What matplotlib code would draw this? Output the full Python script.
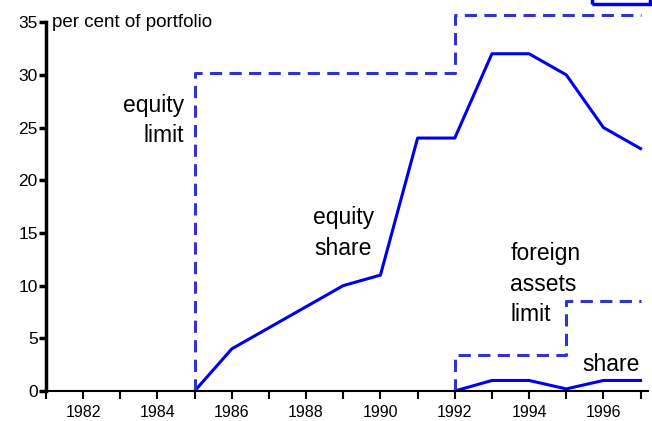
import matplotlib
matplotlib.use("Agg")
import matplotlib.pyplot as plt
from matplotlib.patches import Rectangle

plt.rcParams['font.family'] = ['Liberation Sans', 'DejaVu Sans']

# equity share of portfolio
years = [1985, 1986, 1987, 1988, 1989, 1990, 1991, 1992, 1993, 1994, 1995, 1996, 1997]
equity_share = [0, 4, 6, 8, 10, 11, 24, 24, 32, 32, 30, 25, 23]

# equity limit (step)
eq_limit_x = [1985, 1985, 1992, 1992, 1997]
eq_limit_y = [0, 30.2, 30.2, 35.7, 35.7]

# foreign assets
foreign_years = [1992, 1993, 1994, 1995, 1996, 1997]
foreign_share = [0, 1, 1, 0.2, 1, 1]
fa_limit_x = [1992, 1992, 1995, 1995, 1997]
fa_limit_y = [0, 3.4, 3.4, 8.5, 8.5]

yticks = [0, 5, 10, 15, 20, 25, 30, 35]
xlabels = [1982, 1984, 1986, 1988, 1990, 1992, 1994, 1996]

fig = plt.figure(figsize=(6.52, 4.21), dpi=100)
ax = fig.add_axes([46/652, 30/421, 602/652, 391/421])

line_blue = '#0000ee'
dash_blue = '#3333cc'

ax.plot(years, equity_share, color=line_blue, lw=2.2)
ax.plot(foreign_years, foreign_share, color=line_blue, lw=2.2)
ax.plot(eq_limit_x, eq_limit_y, color=dash_blue, lw=2.2, dashes=(4, 2.4))
ax.plot(fa_limit_x, fa_limit_y, color=dash_blue, lw=2.2, dashes=(4, 2.4))

ax.set_xlim(1981, 1997.2)
ax.set_ylim(0, 37.1)

for s in ['top', 'right']:
    ax.spines[s].set_visible(False)
ax.spines['left'].set_bounds(0, 35)
ax.spines['left'].set_linewidth(2.5)
ax.spines['bottom'].set_linewidth(1.5)

ax.set_yticks(yticks)
ax.set_xticks(range(1981, 1998))
ax.set_xticklabels([str(y) if y in xlabels else '' for y in range(1981, 1998)])
ax.tick_params(axis='y', length=5, width=2.5, labelsize=12.5, pad=1)
ax.tick_params(axis='x', length=6, width=1.5, labelsize=11.5, pad=4)

ax.text(1981.15, 35, 'per cent of portfolio', fontsize=13.5, va='center', ha='left')
ax.text(1984.71, 25.7, 'equity\nlimit', fontsize=16.5, ha='right', va='center', linespacing=1.4)
ax.text(1989.0, 15.0, 'equity\nshare', fontsize=16.5, ha='center', va='center', linespacing=1.4)
ax.text(1993.49, 10.15, 'foreign\nassets\nlimit', fontsize=16.5, ha='left', va='center', linespacing=1.4)
ax.text(1996.2, 2.5, 'share', fontsize=16.5, ha='center', va='center')

# stray legend box at top right
fig.patches.append(Rectangle((592/652, 417/421), 58/652, 10/421, transform=fig.transFigure,
                             fill=False, edgecolor=line_blue, lw=2.5))

fig.savefig('out.png', dpi=100)
